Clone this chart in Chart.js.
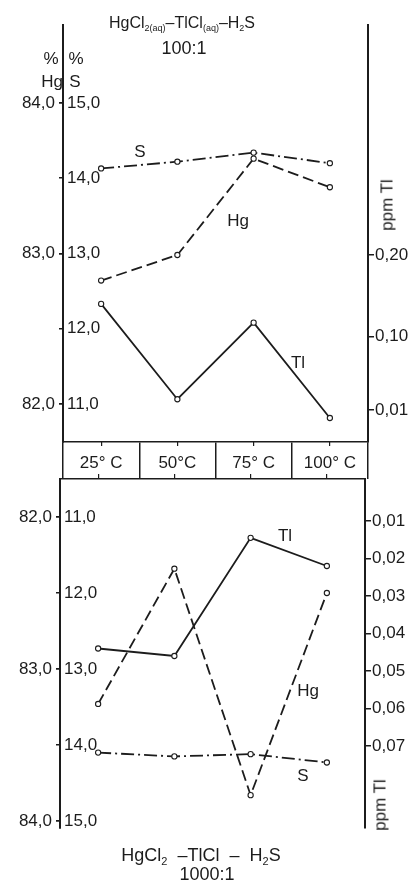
<!DOCTYPE html>
<html><head><meta charset="utf-8">
<script src="https://cdn.jsdelivr.net/npm/chart.js@4/dist/chart.umd.min.js"></script>
<style>
html,body{margin:0;padding:0;background:#fff;}
body{width:413px;height:884px;position:relative;overflow:hidden;font-family:"Liberation Sans",Arial,sans-serif;color:#1c1c1c;}
canvas{position:absolute;left:0;}
#c1{top:0;}
#c2{top:460px;}
.t{position:absolute;font-size:17px;line-height:1;white-space:nowrap;}
.c{transform:translate(-50%,-50%);}
.h{transform:translateX(-50%);font-size:18px;}
.r{transform:translate(-50%,-50%) rotate(-90deg);}
sub{font-size:11px;vertical-align:-4px;line-height:0;}
#t1{font-size:16px;}
#t1 sub{font-size:9px;vertical-align:-3px;}
</style></head><body>
<canvas id="c1" width="413" height="479"></canvas>
<canvas id="c2" width="413" height="424"></canvas>

<div id="t1" class="t h" style="left:182px;top:15px;">HgCl<sub>2(aq)</sub>–TlCl<sub>(aq)</sub>–H<sub>2</sub>S</div>
<div class="t h" style="left:184px;top:39px;">100:1</div>
<div class="t c" style="left:51px;top:58px;">%</div>
<div class="t c" style="left:76px;top:58px;">%</div>
<div class="t c" style="left:52px;top:81px;">Hg</div>
<div class="t c" style="left:75px;top:81px;">S</div>
<div class="t r" style="left:387px;top:205px;">ppm Tl</div>
<div class="t r" style="left:380px;top:805px;">ppm Tl</div>

<div class="t c" style="left:140px;top:151px;">S</div>
<div class="t c" style="left:238px;top:220px;">Hg</div>
<div class="t c" style="left:298px;top:362px;">Tl</div>
<div class="t c" style="left:285px;top:535px;">Tl</div>
<div class="t c" style="left:308px;top:690px;">Hg</div>
<div class="t c" style="left:303px;top:775px;">S</div>

<div class="t h" style="left:201px;top:846px;">HgCl<sub>2</sub>&nbsp; –TlCl&nbsp; –&nbsp; H<sub>2</sub>S</div>
<div class="t h" style="left:207px;top:865px;">1000:1</div>

<script>
// ---- data ----
const temps = ['25° C', '50°C', '75° C', '100° C'];

// HgCl2(aq)–TlCl(aq)–H2S 100:1
const hgTop = [82.82, 82.99, 83.63, 83.44];   // % Hg
const sTop  = [14.13, 14.22, 14.34, 14.20];   // % S
const tlTop = [0.14, 0.023, 0.117, 0.0];      // ppm Tl

// HgCl2–TlCl–H2S 1000:1
const hgBottom = [83.23, 82.34, 83.83, 82.50];
const sBottom  = [14.10, 14.15, 14.12, 14.23];
const tlBottom = [0.044, 0.046, 0.0145, 0.022];

// tick labels
const hgTicks = [82, 83, 84];
const sTicks = [11, 12, 13, 14, 15];
const tlTicksTop = [0.01, 0.10, 0.20];
const tlTicksBottom = [0.01, 0.02, 0.03, 0.04, 0.05, 0.06, 0.07];

// ---- styling helpers ----
const INK = '#1c1c1c';
const FONT = {family: '"Liberation Sans", Arial, sans-serif', size: 17};
const comma = d => v => Number(v).toFixed(d).replace('.', ',');
const fixedTicks = arr => s => { s.ticks = arr.map(v => ({value: v})); };
const setW = w => s => { s.width = w; };
const setH = h => s => { s.height = h; };

function series(label, data, axis, dash) {
  return {label, data, yAxisID: axis, borderColor: INK, borderWidth: 1.8, borderDash: dash,
    pointRadius: 2.6, pointBorderWidth: 1.1, pointBackgroundColor: '#fff', pointBorderColor: INK,
    tension: 0, fill: false};
}

function leftOuter(min, max, reverse, w, ticks) {
  return {type: 'linear', position: 'left', weight: 2, min, max, reverse,
    afterBuildTicks: fixedTicks(ticks), afterFit: setW(w),
    ticks: {callback: comma(1), font: FONT, color: INK, padding: 4},
    grid: {drawOnChartArea: false, drawTicks: true, tickLength: 4, color: INK, lineWidth: 1.5},
    border: {display: true, color: INK, width: 2}};
}
function leftInner(min, max, reverse, ticks) {
  return {type: 'linear', position: 'left', weight: 0, min, max, reverse,
    afterBuildTicks: fixedTicks(ticks), afterFit: setW(0),
    ticks: {callback: comma(1), font: FONT, color: INK, padding: 4, mirror: true},
    grid: {drawOnChartArea: false, drawTicks: true, tickLength: 4, color: INK, lineWidth: 1.5},
    border: {display: true, color: INK, width: 2}};
}
function rightAxis(min, max, reverse, w, ticks) {
  return {type: 'linear', position: 'right', min, max, reverse,
    afterBuildTicks: fixedTicks(ticks), afterFit: setW(w),
    ticks: {callback: comma(2), font: FONT, color: INK, padding: 1},
    grid: {drawOnChartArea: false, drawTicks: true, tickLength: 6, color: INK, lineWidth: 1.5},
    border: {display: true, color: INK, width: 2}};
}

const common = {
  responsive: false, animation: false, devicePixelRatio: 1,
  plugins: {legend: {display: false}, tooltip: {enabled: false}, title: {display: false}}
};

// ---- top chart (100:1) with temperature band as its x axis ----
new Chart(document.getElementById('c1'), {
  type: 'line',
  data: {labels: temps, datasets: [
    series('S', sTop, 'yS', [13, 4, 2, 4]),
    series('Hg', hgTop, 'yHg', [11, 5]),
    series('Tl', tlTop, 'yTl', [])
  ]},
  options: Object.assign({}, common, {
    layout: {padding: {top: 25, left: 0, right: 0, bottom: 0}},
    scales: {
      xMarks: {type: 'category', position: 'bottom', weight: -1, offset: true, afterFit: setH(0),
        ticks: {display: false},
        grid: {drawOnChartArea: false, drawTicks: true, tickLength: 4, color: INK, lineWidth: 1.2},
        border: {display: false}},
      x: {type: 'category', position: 'bottom', weight: 0, offset: true, afterFit: setH(37),
        grid: {offset: true, drawOnChartArea: false, drawTicks: true, tickLength: 37, color: INK, lineWidth: 1.5},
        border: {display: true, color: INK, width: 1.5},
        ticks: {font: FONT, color: INK, padding: -26, maxRotation: 0, autoSkip: false}},
      yHg: leftOuter(81.7475, 84.518, false, 63, hgTicks),
      yS: leftInner(10.495, 16.0365, false, sTicks),
      yTl: rightAxis(-0.02945, 0.4822, false, 45, tlTicksTop)
    }
  })
});

// ---- bottom chart (1000:1), inverted axes ----
new Chart(document.getElementById('c2'), {
  type: 'line',
  data: {labels: temps, datasets: [
    series('S', sBottom, 'yS', [13, 4, 2, 4]),
    series('Hg', hgBottom, 'yHg', [11, 5]),
    series('Tl', tlBottom, 'yTl', [])
  ]},
  options: Object.assign({}, common, {
    layout: {padding: {top: 19, left: 0, right: 0, bottom: 56}},
    scales: {
      x: {type: 'category', position: 'top', offset: true, afterFit: setH(0),
        ticks: {display: false},
        grid: {drawOnChartArea: false, drawTicks: true, tickLength: 5, color: INK, lineWidth: 1.2},
        border: {display: true, color: INK, width: 1.5}},
      yHg: leftOuter(81.75, 84.046, true, 60, hgTicks),
      yS: leftInner(10.5, 15.092, true, sTicks),
      yTl: rightAxis(-0.0012, 0.09187, true, 48, tlTicksBottom)
    }
  })
});
</script>
</body></html>
